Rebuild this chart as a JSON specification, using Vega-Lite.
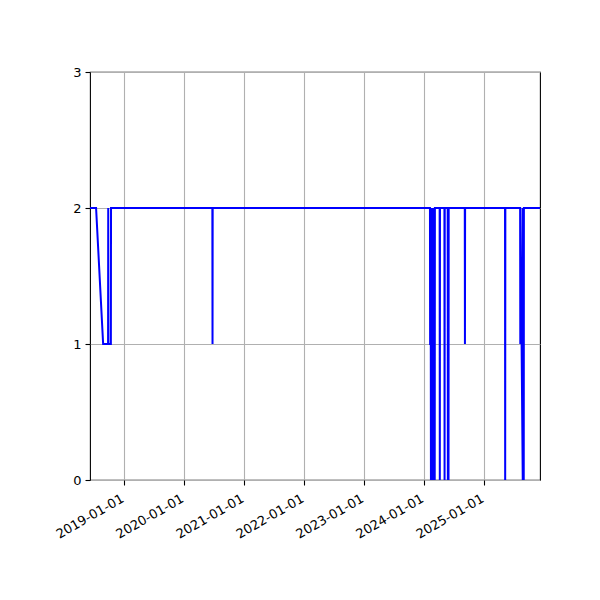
{
  "$schema": "https://vega.github.io/schema/vega-lite/v6.json",
  "width": 450,
  "height": 408,
  "autosize": {"type": "none"},
  "padding": {"left": 90, "top": 72, "right": 60, "bottom": 120},
  "background": "white",
  "config": {
    "font": "DejaVu Sans",
    "view": {"stroke": "black", "strokeWidth": 1.1},
    "axis": {
      "domain": false,
      "labelFont": "DejaVu Sans",
      "labelFontSize": 13,
      "labelColor": "black",
      "tickColor": "black",
      "tickSize": 5,
      "tickWidth": 1.1,
      "labelPadding": 4,
      "grid": true,
      "gridColor": "#b0b0b0",
      "gridWidth": 1.1,
      "title": null
    }
  },
  "data": {
    "values": [
      {"date": "2018-06-06", "value": 2},
      {"date": "2018-07-13", "value": 2},
      {"date": "2018-08-25", "value": 1},
      {"date": "2018-09-24", "value": 1},
      {"date": "2018-09-25", "value": 2},
      {"date": "2018-09-26", "value": 1},
      {"date": "2018-10-11", "value": 1},
      {"date": "2018-10-12", "value": 2},
      {"date": "2020-06-20", "value": 2},
      {"date": "2020-06-21", "value": 1},
      {"date": "2020-06-22", "value": 2},
      {"date": "2024-02-05", "value": 2},
      {"date": "2024-02-06", "value": 1},
      {"date": "2024-02-10", "value": 1},
      {"date": "2024-02-11", "value": 0},
      {"date": "2024-02-12", "value": 2},
      {"date": "2024-02-15", "value": 0},
      {"date": "2024-02-16", "value": 2},
      {"date": "2024-02-20", "value": 0},
      {"date": "2024-02-21", "value": 2},
      {"date": "2024-02-25", "value": 0},
      {"date": "2024-02-26", "value": 2},
      {"date": "2024-03-01", "value": 0},
      {"date": "2024-03-02", "value": 2},
      {"date": "2024-03-05", "value": 0},
      {"date": "2024-03-06", "value": 2},
      {"date": "2024-04-04", "value": 2},
      {"date": "2024-04-05", "value": 0},
      {"date": "2024-04-06", "value": 2},
      {"date": "2024-05-03", "value": 2},
      {"date": "2024-05-04", "value": 0},
      {"date": "2024-05-05", "value": 2},
      {"date": "2024-05-23", "value": 2},
      {"date": "2024-05-24", "value": 0},
      {"date": "2024-05-25", "value": 2},
      {"date": "2024-05-28", "value": 0},
      {"date": "2024-05-29", "value": 2},
      {"date": "2024-09-04", "value": 2},
      {"date": "2024-09-05", "value": 1},
      {"date": "2024-09-06", "value": 2},
      {"date": "2025-05-07", "value": 2},
      {"date": "2025-05-08", "value": 0},
      {"date": "2025-05-09", "value": 2},
      {"date": "2025-08-07", "value": 2},
      {"date": "2025-08-08", "value": 1},
      {"date": "2025-08-09", "value": 2},
      {"date": "2025-08-23", "value": 0},
      {"date": "2025-08-24", "value": 2},
      {"date": "2025-08-29", "value": 0},
      {"date": "2025-08-30", "value": 2},
      {"date": "2025-12-06", "value": 2}
    ]
  },
  "mark": {"type": "line", "color": "#0000ff", "strokeWidth": 2, "clip": true, "strokeJoin": "miter"},
  "encoding": {
    "x": {
      "field": "date",
      "type": "temporal",
      "scale": {
        "type": "utc",
        "domain": [
          {"year": 2018, "month": 6, "date": 6, "utc": true},
          {"year": 2025, "month": 12, "date": 6, "utc": true}
        ],
        "nice": false
      },
      "axis": {
        "values": [
          {"year": 2019, "month": 1, "date": 1, "utc": true},
          {"year": 2020, "month": 1, "date": 1, "utc": true},
          {"year": 2021, "month": 1, "date": 1, "utc": true},
          {"year": 2022, "month": 1, "date": 1, "utc": true},
          {"year": 2023, "month": 1, "date": 1, "utc": true},
          {"year": 2024, "month": 1, "date": 1, "utc": true},
          {"year": 2025, "month": 1, "date": 1, "utc": true}
        ],
        "labelExpr": "utcFormat(datum.value, '%Y-%m-%d')",
        "labelAngle": -30,
        "labelAlign": "right",
        "labelBaseline": "top",
        "labelOffset": -5,
        "labelPadding": 7,
        "labelOverlap": false
      }
    },
    "y": {
      "field": "value",
      "type": "quantitative",
      "scale": {"domain": [0, 3], "nice": false},
      "axis": {"values": [0, 1, 2, 3], "format": "d"}
    }
  }
}
